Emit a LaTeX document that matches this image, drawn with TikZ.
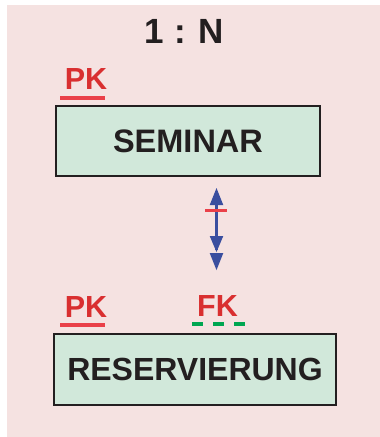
\documentclass[tikz,border=0pt]{standalone}
\usepackage{fontspec}
\setmainfont{Liberation Sans}
\begin{document}
\begin{tikzpicture}[x=1pt,y=-1pt]
\definecolor{bgpink}{HTML}{F5E2E1}
\definecolor{boxgreen}{HTML}{D1E8DA}
\definecolor{keyred}{HTML}{D92F30}
\definecolor{linered}{HTML}{EA4049}
\definecolor{fkgreen}{HTML}{00A651}
\definecolor{relblue}{HTML}{3A4E9F}
\definecolor{ink}{HTML}{231F20}
\tikzset{
  entity/.style={draw=ink, line width=2.4pt, fill=boxgreen, inner sep=0pt,
    font=\fontsize{32}{36}\selectfont\bfseries, text=ink},
  keylabel/.style={anchor=base, inner sep=0pt, text=keyred,
    font=\fontsize{30.5}{36}\selectfont\bfseries},
  pkline/.style={linered, line width=4pt},
  fkline/.style={fkgreen, line width=4pt, dash pattern=on 11pt off 10pt},
  relline/.style={relblue, line width=3pt},
  relhead/.style={fill=relblue},
}
\useasboundingbox (0,0) rectangle (380,437);
\fill[bgpink] (7,5) rectangle (380,437);
\node[anchor=base, inner sep=0pt, text=ink, font=\fontsize{35}{40}\selectfont\bfseries] (title) at (184.5,43) {1 : N};
% SEMINAR
\node[entity, minimum width=263.6pt, minimum height=70pt, font=\fontsize{32.5}{36}\selectfont\bfseries] (sem) at (188,141) {SEMINAR};
\node[keylabel] (pk1) at (86,89) {PK};
\draw[pkline] (60,97.5) -- (105,97.5);
% RESERVIERUNG
\node[entity, minimum width=281.6pt, minimum height=70.6pt] (res) at (195,369.5) {RESERVIERUNG\hspace{8pt}};
\node[keylabel] (pk2) at (86,317) {PK};
\draw[pkline] (60,325) -- (105,325);
\node[keylabel] (fk) at (217.5,316) {FK};
\draw[fkline] (192,323.5) -- (247,323.5);
% relationship
\coordinate (rtop) at (216.5,188);
\coordinate (rbot) at (216.5,270);
\coordinate (rmid) at (216.5,252);
\draw[relline] ([yshift=-10pt]rtop) -- ([yshift=20pt]rbot);
\fill[relhead] (rtop) -- ++(-6.8,17) -- ++(13.6,0) -- cycle;
\fill[relhead] (rmid) -- ++(-6.8,-16) -- ++(13.6,0) -- cycle;
\fill[relhead] (rbot) -- ++(-6.8,-17) -- ++(13.6,0) -- cycle;
\draw[linered, line width=3pt] (205,210.5) -- (226.5,210.5);
\end{tikzpicture}
\end{document}
